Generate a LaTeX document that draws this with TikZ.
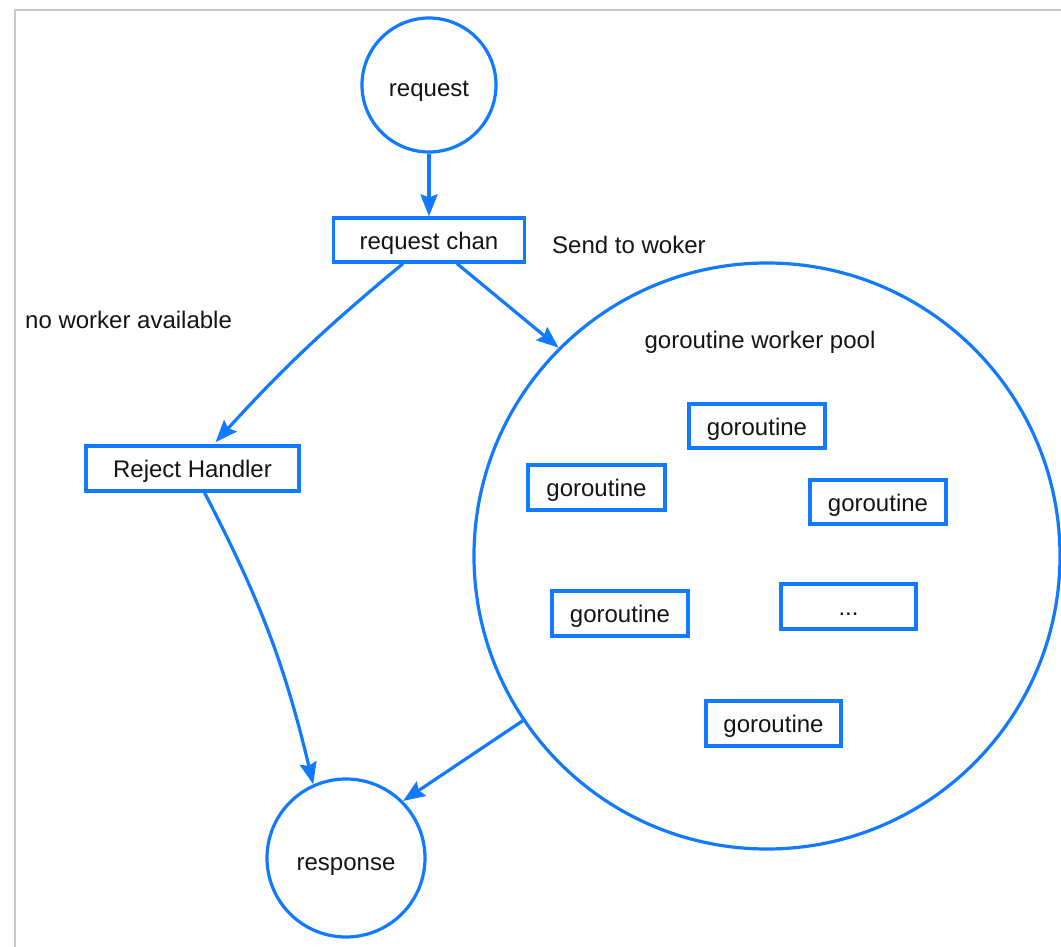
\documentclass[tikz,border=0pt]{standalone}
\usepackage{fontspec}
\setmainfont{Liberation Sans}
\usetikzlibrary{arrows.meta,shapes.geometric}
\definecolor{flowblue}{RGB}{18,122,255}
\definecolor{framegray}{RGB}{200,200,200}
\definecolor{ink}{RGB}{20,20,20}
\tikzset{
  every node/.style={font=\fontsize{24}{29}\selectfont, text=ink},
  roundnode/.style={circle, draw=flowblue, line width=3.2pt, inner sep=0pt,
    text height=25pt, text depth=1pt},
  boxnode/.style={rectangle, draw=flowblue, line width=3.2pt, inner sep=0pt,
    text height=20pt, text depth=2pt},
  flow/.style={draw=flowblue, line width=3.2pt,
    -{Stealth[length=22pt,width=17pt,inset=3pt]}},
  caption/.style={inner sep=0pt}
}
\begin{document}
\begin{tikzpicture}[x=1pt,y=-1pt]
\useasboundingbox (0,0) rectangle (1061,947);
% page frame
\draw[framegray, line width=2pt] (1061,10) -- (15,10) -- (15,947);

% main nodes
\node[roundnode, minimum size=134pt] (req) at (429,85) {request};
\node[boxnode, minimum width=191pt, minimum height=44pt] (chan) at (429,240) {request chan};
\node[boxnode, minimum width=213pt, minimum height=45pt] (reject) at (192.5,468.5) {Reject Handler};
\node[roundnode, minimum size=586pt] (pool) at (767,556) {};
\node[roundnode, minimum size=158pt] (resp) at (346,858) {response};

% labels
\node[caption, anchor=west] (sendlbl) at (552,245) {Send to woker};
\node[caption, anchor=west] (nolbl) at (25,320) {no worker available};
\node[caption] (pooltitle) at (760,342) {goroutine worker pool};

% workers inside the pool
\node[boxnode, minimum width=136pt, minimum height=44pt] (g1) at (757,426) {goroutine};
\node[boxnode, minimum width=137pt, minimum height=45pt] (g2) at (596.5,487.5) {goroutine};
\node[boxnode, minimum width=136pt, minimum height=44pt] (g3) at (878,502) {goroutine};
\node[boxnode, minimum width=136pt, minimum height=45pt] (g4) at (620,613.5) {goroutine};
\node[boxnode, minimum width=135pt, minimum height=45pt] (gdots) at (848.5,606.5) {...};
\node[boxnode, minimum width=135pt, minimum height=45pt] (g5) at (773.5,723.5) {goroutine};

% connectors
\draw[flow] (req.south) -- (chan.north);
\draw[flow, shorten >=3pt] ([xshift=-26pt]chan.south) to[bend right=4] ([xshift=21pt]reject.north);
\draw[flow] ([xshift=28pt]chan.south) -- (pool.135.5);
\draw[flow] ([xshift=12pt]reject.south) to[bend left=7] (resp.114);
\draw[flow] (pool.214) -- (resp.45);
\end{tikzpicture}
\end{document}
